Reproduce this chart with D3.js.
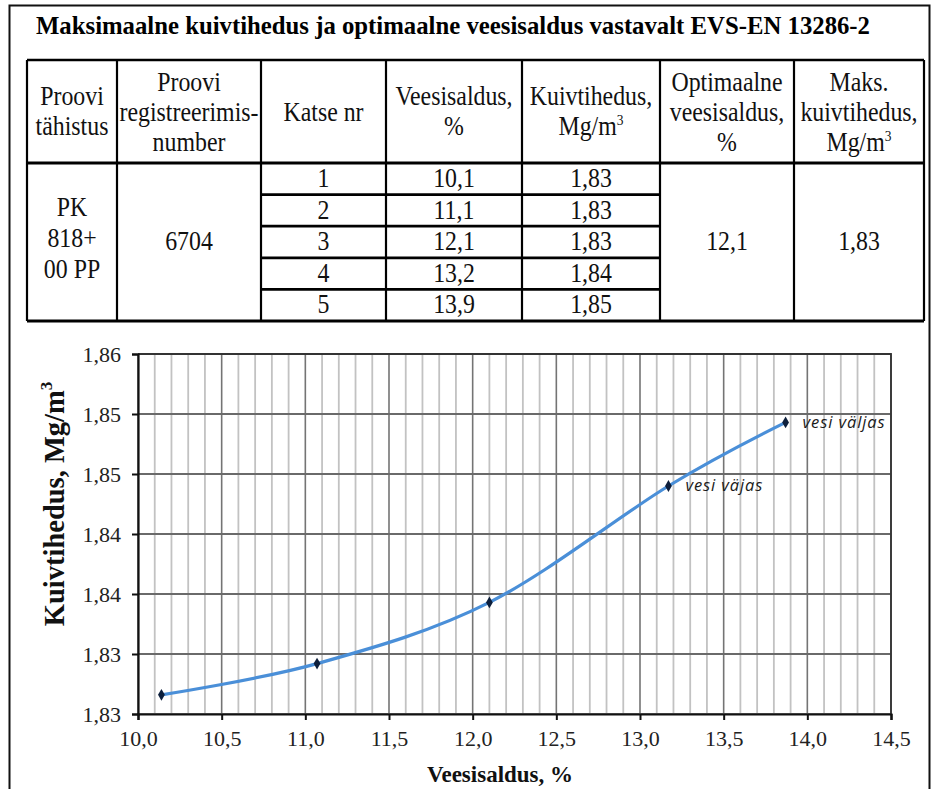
<!DOCTYPE html>
<html>
<head>
<meta charset="utf-8">
<script src="https://cdn.jsdelivr.net/npm/d3@7/dist/d3.min.js"></script>
<style>
  html, body { margin: 0; padding: 0; background: #fff; }
  svg { display: block; }
</style>
</head>
<body>
<svg id="chart" width="931" height="789"></svg>
<script>
// ---------- DATA ----------
const titleText = "Maksimaalne kuivtihedus ja optimaalne veesisaldus vastavalt EVS-EN 13286-2";
const headerCols = [
  ["Proovi", "tähistus"],
  ["Proovi", "registreerimis-", "number"],
  ["Katse nr"],
  ["Veesisaldus,", "%"],
  ["Kuivtihedus,", "Mg/m³"],
  ["Optimaalne", "veesisaldus,", "%"],
  ["Maks.", "kuivtihedus,", "Mg/m³"]
];
const sampleId = ["PK", "818+", "00 PP"];
const registrationNo = "6704";
const trialNo = ["1", "2", "3", "4", "5"];
const moistureTable = ["10,1", "11,1", "12,1", "13,2", "13,9"];
const densityTable = ["1,83", "1,83", "1,83", "1,84", "1,85"];
const optimumMoisture = "12,1";
const maxDensity = "1,83";

// chart series
const moisture = [10.14, 11.07, 12.10, 13.17, 13.87];
const density  = [1.8316, 1.8342, 1.8393, 1.8490, 1.8543];
const pointNotes = ["", "", "", "vesi väjas", "vesi väljas"];

const xTicks = [10.0, 10.5, 11.0, 11.5, 12.0, 12.5, 13.0, 13.5, 14.0, 14.5];
const xTickLabels = ["10,0", "10,5", "11,0", "11,5", "12,0", "12,5", "13,0", "13,5", "14,0", "14,5"];
const xMinorTicks = [10.1, 10.2, 10.3, 10.4, 10.6, 10.7, 10.8, 10.9, 11.1, 11.2, 11.3, 11.4,
  11.6, 11.7, 11.8, 11.9, 12.1, 12.2, 12.3, 12.4, 12.6, 12.7, 12.8, 12.9, 13.1, 13.2, 13.3, 13.4,
  13.6, 13.7, 13.8, 13.9, 14.1, 14.2, 14.3, 14.4];
const yTicks = [1.83, 1.835, 1.84, 1.845, 1.85, 1.855, 1.86];
const yTickLabels = ["1,83", "1,83", "1,84", "1,84", "1,85", "1,85", "1,86"];
const xTitle = "Veesisaldus, %";
const yTitle = "Kuivtihedus, Mg/m";

// ---------- LAYOUT ----------
const svg = d3.select("#chart");
const serif = "\"Liberation Serif\", \"Times New Roman\", serif";

// outer frame
svg.append("path")
  .attr("d", "M9.5,789 L9.5,5.5 L929.5,5.5 L929.5,789")
  .attr("fill", "none").attr("stroke", "#111").attr("stroke-width", 2);

// title
svg.append("text")
  .attr("x", 36).attr("y", 34)
  .attr("font-family", serif).attr("font-weight", "bold").attr("font-size", 25)
  .attr("textLength", 834).attr("lengthAdjust", "spacingAndGlyphs")
  .attr("fill", "#000")
  .text(titleText);

// ---------- TABLE ----------
const colX = [27, 117, 261, 386, 522, 660, 794, 924];
const tTop = 60, hBottom = 163, tBottom = 321;
const rowH = (tBottom - hBottom) / 5;
const rowY = d3.range(6).map(i => hBottom + i * rowH);
const tg = svg.append("g");
const tcell = (x, y, str, size) => {
  const t = tg.append("text")
    .attr("transform", `translate(${x},${y}) scale(0.9,1)`)
    .attr("text-anchor", "middle")
    .attr("font-family", serif).attr("font-size", size || 26.5)
    .attr("fill", "#111");
  if (str.endsWith("³")) {
    t.append("tspan").text(str.slice(0, -1));
    t.append("tspan").attr("dy", -10).attr("font-size", 15).text("3");
  } else t.text(str);
};

// header text
const cx = i => (colX[i] + colX[i + 1]) / 2;
headerCols.forEach((lines, i) => {
  const n = lines.length;
  const base = n === 1 ? 121 : n === 2 ? 105 : 91;
  lines.forEach((s, j) => tcell(cx(i), base + j * 30, s));
});
// merged cells
sampleId.forEach((s, j) => tcell(cx(0), rowY[1] + 21 + j * 31, s));
tcell(cx(1), rowY[2] + 24, registrationNo);
tcell(cx(5), rowY[2] + 24, optimumMoisture);
tcell(cx(6), rowY[2] + 24, maxDensity);
trialNo.forEach((s, j) => {
  tcell(cx(2), rowY[j] + 24, s);
  tcell(cx(3), rowY[j] + 24, moistureTable[j]);
  tcell(cx(4), rowY[j] + 24, densityTable[j]);
});

// table lines
const line = (x1, y1, x2, y2, w) => tg.append("line")
  .attr("x1", x1).attr("y1", y1).attr("x2", x2).attr("y2", y2)
  .attr("stroke", "#000").attr("stroke-width", w || 2);
line(colX[0], tTop, colX[7], tTop, 2.5);
line(colX[0], tBottom, colX[7], tBottom, 2.8);
line(colX[0], hBottom, colX[7], hBottom, 2.8);
colX.forEach(x => line(x, tTop, x, tBottom, 2.2));
for (let j = 1; j < 5; j++) line(colX[2], rowY[j], colX[5], rowY[j], 2.8);

// ---------- CHART ----------
const x = d3.scaleLinear().domain([10, 14.5]).range([138, 891]);
const y = d3.scaleLinear().domain([1.83, 1.86]).range([714, 354]);
const cg = svg.append("g");

// minor vertical grid
cg.append("g").selectAll("line").data(xMinorTicks).join("line")
  .attr("x1", d => x(d)).attr("x2", d => x(d))
  .attr("y1", y(1.86)).attr("y2", y(1.83))
  .attr("stroke", "#c2c2c2").attr("stroke-width", 1.8);
// major vertical grid
cg.append("g").selectAll("line").data(xTicks).join("line")
  .attr("x1", d => x(d)).attr("x2", d => x(d))
  .attr("y1", y(1.86)).attr("y2", y(1.83))
  .attr("stroke", "#747474").attr("stroke-width", 1.6);
// horizontal grid
cg.append("g").selectAll("line").data(yTicks).join("line")
  .attr("x1", x(10)).attr("x2", x(14.5))
  .attr("y1", d => y(d)).attr("y2", d => y(d))
  .attr("stroke", "#6a6a6a").attr("stroke-width", 1.8);
// plot border (top/right)
cg.append("path")
  .attr("d", `M${x(10)},${y(1.86)} L${x(14.5)},${y(1.86)} L${x(14.5)},${y(1.83)}`)
  .attr("fill", "none").attr("stroke", "#333").attr("stroke-width", 1.8);

// axes
const xAxis = d3.axisBottom(x).tickValues(xTicks)
  .tickFormat((d, i) => xTickLabels[i]).tickSize(6).tickPadding(8);
const yAxis = d3.axisLeft(y).tickValues(yTicks)
  .tickFormat((d, i) => yTickLabels[i]).tickSize(6).tickPadding(11);
const gx = cg.append("g").attr("transform", `translate(0,${y(1.83)})`).call(xAxis);
const gy = cg.append("g").attr("transform", `translate(${x(10)},0)`).call(yAxis);
[gx, gy].forEach(g => {
  g.attr("font-family", serif).attr("font-size", 22);
  g.select(".domain").attr("stroke", "#111").attr("stroke-width", 2.2);
  g.selectAll(".tick line").attr("stroke", "#111").attr("stroke-width", 2);
  g.selectAll(".tick text").attr("font-family", serif).attr("font-size", 22).attr("fill", "#222");
});
gx.selectAll(".tick text").attr("dy", "0.8em");
gy.selectAll(".tick text").attr("dy", "0.35em");

// line
const pts = moisture.map((m, i) => [m, density[i]]);
cg.append("path").datum(pts)
  .attr("d", d3.line().x(d => x(d[0])).y(d => y(d[1])).curve(d3.curveCardinal.tension(0)))
  .attr("fill", "none").attr("stroke", "#4a8fd8").attr("stroke-width", 3.2);
// markers
cg.append("g").selectAll("path").data(pts).join("path")
  .attr("transform", d => `translate(${x(d[0])},${y(d[1])})`)
  .attr("d", d3.symbol(d3.symbolDiamond, 40))
  .attr("fill", "#0d1f3c");
// notes
cg.append("g").selectAll("text").data(pts.map((p, i) => [p, pointNotes[i]]).filter(d => d[1]))
  .join("text")
  .attr("x", d => x(d[0][0]) + 17).attr("y", d => y(d[0][1]) + 1)
  .attr("dominant-baseline", "middle")
  .attr("font-family", "\"Open Sans\", \"DejaVu Sans\", sans-serif")
  .attr("font-style", "italic").attr("font-size", 16.5).attr("letter-spacing", 0.9)
  .attr("fill", "#1a1a1a")
  .text(d => d[1]);

// axis titles
svg.append("text")
  .attr("x", 500).attr("y", 782)
  .attr("text-anchor", "middle")
  .attr("font-family", serif).attr("font-weight", "bold").attr("font-size", 23)
  .attr("fill", "#111")
  .text(xTitle);
const yt = svg.append("text")
  .attr("transform", "translate(64,504) rotate(-90)")
  .attr("text-anchor", "middle")
  .attr("font-family", serif).attr("font-weight", "bold").attr("font-size", 28.5)
  .attr("fill", "#111");
yt.append("tspan").text(yTitle);
yt.append("tspan").attr("dy", -12).attr("font-size", 17).text("3");
</script>
</body>
</html>
